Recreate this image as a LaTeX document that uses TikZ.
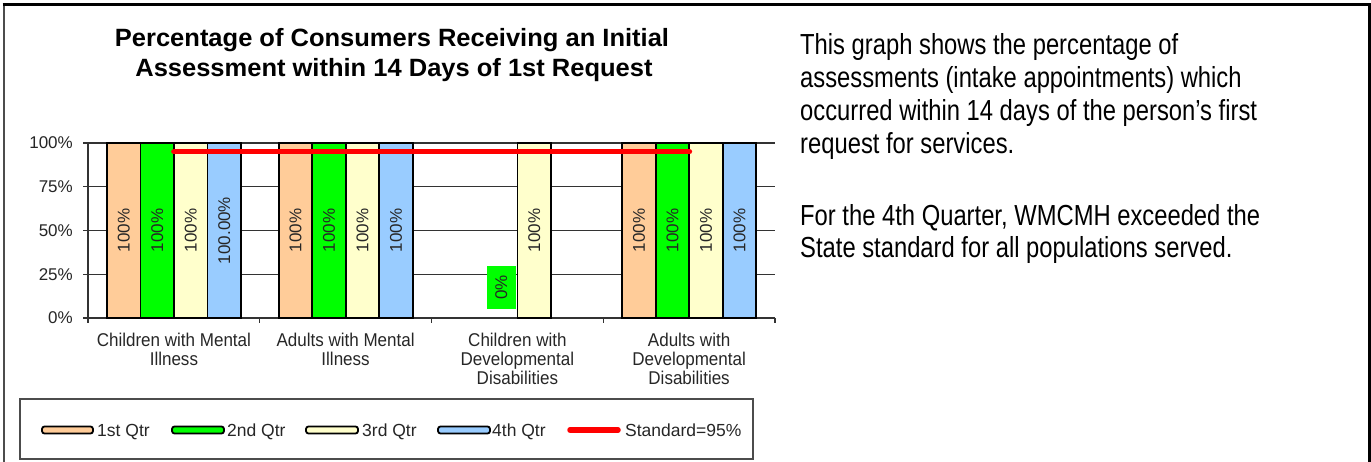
\documentclass[tikz,border=0pt]{standalone}
\usepackage{fontspec}
\setmainfont{Liberation Sans}
\newfontfamily\narrowfont[FakeStretch=0.82]{Liberation Sans}
\newfontfamily\titlefont[FakeStretch=1.02]{Liberation Sans}
\newfontfamily\catfont[FakeStretch=0.92]{Liberation Sans}
\definecolor{qone}{HTML}{FFCC99}
\definecolor{qtwo}{HTML}{00FF00}
\definecolor{qthree}{HTML}{FFFFCC}
\definecolor{qfour}{HTML}{99CCFF}
\definecolor{stdred}{HTML}{FF0000}
\tikzset{
  frameline/.style={line width=3pt, black},
  gridline/.style={line width=1.1pt, black!80},
  axisline/.style={line width=1.1pt, black!80},
  barstyle/.style={line width=1.8pt, black},
  barlbl/.style={rotate=90, inner sep=0pt, font=\fontsize{17}{20}\selectfont, text=black!85},
  ylbl/.style={anchor=east, inner sep=0pt, font=\fontsize{17}{20}\selectfont, text=black!85},
  catlbl/.style={anchor=base, inner sep=0pt, font=\catfont\fontsize{18.5}{20}\selectfont, text=black!85},
  titlelbl/.style={anchor=base, inner sep=0pt, font=\titlefont\bfseries\fontsize{25}{30}\selectfont},
  sidelbl/.style={anchor=base west, inner sep=0pt, font=\narrowfont\fontsize{29}{33}\selectfont},
  legbox/.style={line width=1.2pt, black!70},
  swatch/.style={line width=1.8pt, black, rounded corners=2.5pt},
  leglbl/.style={anchor=base west, inner sep=0pt, font=\fontsize{17.5}{20}\selectfont, text=black!85},
  stdline/.style={line width=5.5pt, stdred, line cap=round}
}
\begin{document}
\begin{tikzpicture}[x=1pt,y=-1pt]
\useasboundingbox (0,0) rectangle (1371,462);
% outer frame
\draw[line width=2pt, black!70] (3.5,470) -- (3.5,5);
\draw[frameline] (2.5,5) -- (1369.5,5) -- (1369.5,470);

% title
\node[titlelbl] (title1) at (392,47) {Percentage of Consumers Receiving an Initial};
\node[titlelbl] (title2) at (394,77) {Assessment within 14 Days of 1st Request};

% gridlines
\foreach \yy in {143,186.75,230.5,274.25}{
  \draw[gridline] (88,\yy) -- (775,\yy);
}
% axes
\draw[axisline] (88,143) -- (88,323);
\draw[axisline] (83,318) -- (775,318);
\foreach \yy in {143,186.75,230.5,274.25,318}{
  \draw[axisline] (83,\yy) -- (88,\yy);
}
\foreach \xx in {259.75,431.5,603.25,775}{
  \draw[axisline] (\xx,318) -- (\xx,323);
}
% y labels
\node[ylbl] (y100) at (73,143) {100\%};
\node[ylbl] (y75) at (73,186.75) {75\%};
\node[ylbl] (y50) at (73,230.5) {50\%};
\node[ylbl] (y25) at (73,274.25) {25\%};
\node[ylbl] (y0) at (73,318) {0\%};

% bars: category 1
\draw[barstyle,fill=qone]   (107,318) rectangle (140.5,143);
\draw[barstyle,fill=qtwo]   (140.5,318) rectangle (174,143);
\draw[barstyle,fill=qthree] (174,318) rectangle (207.5,143);
\draw[barstyle,fill=qfour]  (207.5,318) rectangle (241,143);
% category 2
\draw[barstyle,fill=qone]   (278.75,318) rectangle (312.25,143);
\draw[barstyle,fill=qtwo]   (312.25,318) rectangle (345.75,143);
\draw[barstyle,fill=qthree] (345.75,318) rectangle (379.25,143);
\draw[barstyle,fill=qfour]  (379.25,318) rectangle (412.75,143);
% category 3
\draw[barstyle,fill=qthree] (517.5,318) rectangle (551,143);
% category 4
\draw[barstyle,fill=qone]   (622.25,318) rectangle (655.75,143);
\draw[barstyle,fill=qtwo]   (655.75,318) rectangle (689.25,143);
\draw[barstyle,fill=qthree] (689.25,318) rectangle (722.75,143);
\draw[barstyle,fill=qfour]  (722.75,318) rectangle (756.25,143);

% bar labels
\node[barlbl] (b11) at (123.75,230.5) {100\%};
\node[barlbl] (b12) at (157.25,230.5) {100\%};
\node[barlbl] (b13) at (190.75,230.5) {100\%};
\node[barlbl] (b14) at (224.25,230.5) {100.00\%};
\node[barlbl] (b21) at (295.5,230.5) {100\%};
\node[barlbl] (b22) at (329,230.5) {100\%};
\node[barlbl] (b23) at (362.5,230.5) {100\%};
\node[barlbl] (b24) at (396,230.5) {100\%};
\node[barlbl, fill=qtwo, minimum width=43pt, minimum height=29pt] (b32) at (501.3,287.5) {0\%};
\node[barlbl] (b33) at (534.25,230.5) {100\%};
\node[barlbl] (b41) at (639,230.5) {100\%};
\node[barlbl] (b42) at (672.5,230.5) {100\%};
\node[barlbl] (b43) at (706,230.5) {100\%};
\node[barlbl] (b44) at (739.5,230.5) {100\%};

% standard line
\coordinate (stdA) at (173.9,151.75);
\coordinate (stdB) at (689.4,151.75);
\draw[stdline] (stdA) -- (stdB);

% category labels
\node[catlbl] (c1a) at (173.9,346) {Children with Mental};
\node[catlbl] (c1b) at (173.9,365) {Illness};
\node[catlbl] (c2a) at (345.6,346) {Adults with Mental};
\node[catlbl] (c2b) at (345.6,365) {Illness};
\node[catlbl] (c3a) at (517.4,346) {Children with};
\node[catlbl] (c3b) at (517.4,365) {Developmental};
\node[catlbl] (c3c) at (517.4,384) {Disabilities};
\node[catlbl] (c4a) at (689.1,346) {Adults with};
\node[catlbl] (c4b) at (689.1,365) {Developmental};
\node[catlbl] (c4c) at (689.1,384) {Disabilities};

% legend
\draw[legbox] (20,399) rectangle (753,459);
\draw[swatch,fill=qone]   (42,426.5) rectangle (93,433.5);
\node[leglbl] (l1) at (97,436) {1st Qtr};
\draw[swatch,fill=qtwo]   (172,426.5) rectangle (224,433.5);
\node[leglbl] (l2) at (227,436) {2nd Qtr};
\draw[swatch,fill=qthree] (306,426.5) rectangle (358,433.5);
\node[leglbl] (l3) at (362,436) {3rd Qtr};
\draw[swatch,fill=qfour]  (438,426.5) rectangle (490,433.5);
\node[leglbl] (l4) at (492,436) {4th Qtr};
\coordinate (legA) at (570,430);
\coordinate (legB) at (618,430);
\draw[stdline] (legA) -- (legB);
\node[leglbl] (l5) at (625,436) {Standard=95\%};

% side text
\node[sidelbl] (s1) at (800,55) {This graph shows the percentage of};
\node[sidelbl] (s2) at (800,88) {assessments (intake appointments) which};
\node[sidelbl] (s3) at (800,121) {occurred within 14 days of the person’s first};
\node[sidelbl] (s4) at (800,154) {request for services.};
\node[sidelbl] (s5) at (800,226) {For the 4th Quarter, WMCMH exceeded the};
\node[sidelbl] (s6) at (800,258) {State standard for all populations served.};
\end{tikzpicture}
\end{document}
